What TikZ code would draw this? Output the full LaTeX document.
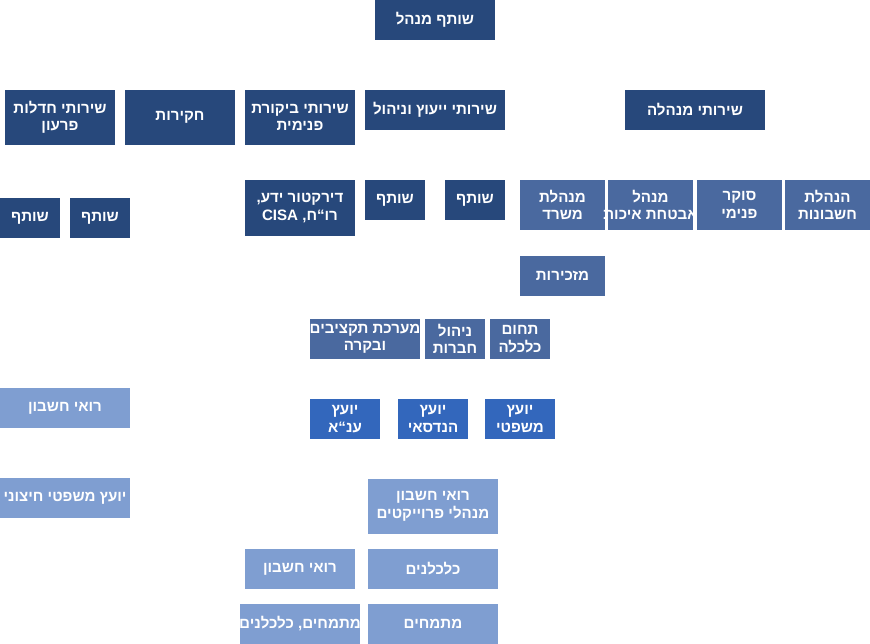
\documentclass[tikz,border=0pt]{standalone}
\usepackage{fontspec}
\setmainfont{Liberation Sans}
\newfontfamily\hebf[Script=Hebrew]{Liberation Sans}
\TeXXeTstate=1
\newcommand{\hb}[1]{\beginR#1\endR}
\definecolor{cdark}{HTML}{27487B}
\definecolor{cmed}{HTML}{4A699F}
\definecolor{cbright}{HTML}{3367BC}
\definecolor{clight}{HTML}{7F9ED1}
\tikzset{
  bx/.style={draw=none,inner sep=0pt,text=white,align=center,
    font=\hebf\bfseries\fontsize{8.6}{10}\selectfont},
  dark/.style={bx,fill=cdark},
  med/.style={bx,fill=cmed},
  bright/.style={bx,fill=cbright},
  light/.style={bx,fill=clight}}
\newcommand{\bx}[7]{%
  \path[#5] (#1,#2) rectangle (#3,#4);
  \node[#5,fill=none] (#6) at ({(#1+#3)/2},{(#2+#4)/2}) {#7};}
\begin{document}
\begin{tikzpicture}[x=0.02cm,y=-0.02cm]
\useasboundingbox (0,0) rectangle (870,644);
\bx{375}{0}{495}{40}{dark}{top}{\hb{שותף מנהל}}
\bx{5}{90}{115}{145}{dark}{hadl}{\hb{שירותי חדלות}\\\hb{פרעון}}
\bx{125}{90}{235}{145}{dark}{hak}{\hb{חקירות}}
\bx{245}{90}{355}{145}{dark}{bik}{\hb{שירותי ביקורת}\\\hb{פנימית}}
\bx{365}{90}{505}{130}{dark}{yeuz}{\hb{שירותי ייעוץ וניהול}}
\bx{625}{90}{765}{130}{dark}{minh}{\hb{שירותי מנהלה}}
\bx{245}{180}{355}{236}{dark}{dir}{\hb{דירקטור ידע,}\\\hb{רו“ח, \beginL CISA\endL}}
\bx{365}{180}{425}{220}{dark}{s1}{\hb{שותף}}
\bx{445}{180}{505}{220}{dark}{s2}{\hb{שותף}}
\bx{70}{198}{130}{238}{dark}{s3}{\hb{שותף}}
\bx{0}{198}{60}{238}{dark}{s4}{\hb{שותף}}
\bx{520}{180}{605}{230}{med}{m1}{\hb{מנהלת}\\\hb{משרד}}
\bx{608}{180}{693}{230}{med}{m2}{\hb{מנהל}\\\hb{אבטחת איכות}}
\bx{697}{180}{782}{230}{med}{m3}{\hb{סוקר}\\\hb{פנימי}}
\bx{785}{180}{870}{230}{med}{m4}{\hb{הנהלת}\\\hb{חשבונות}}
\bx{520}{256}{605}{296}{med}{m5}{\hb{מזכירות}}
\bx{310}{319}{420}{359}{med}{m6}{\hb{מערכת תקציבים}\\\hb{ובקרה}}
\bx{425}{319}{485}{359}{med}{m7}{\hb{ניהול}\\\hb{חברות}}
\bx{490}{319}{550}{359}{med}{m8}{\hb{תחום}\\\hb{כלכלה}}
\bx{310}{399}{380}{439}{bright}{b1}{\hb{יועץ}\\\hb{ענ“א}}
\bx{398}{399}{468}{439}{bright}{b2}{\hb{יועץ}\\\hb{הנדסאי}}
\bx{485}{399}{555}{439}{bright}{b3}{\hb{יועץ}\\\hb{משפטי}}
\bx{0}{388}{130}{428}{light}{l1}{\hb{רואי חשבון}}
\bx{0}{478}{130}{518}{light}{l2}{\hb{יועץ משפטי חיצוני}}
\bx{368}{479}{498}{534}{light}{l3}{\hb{רואי חשבון}\\\hb{מנהלי פרוייקטים}}
\bx{245}{549}{355}{589}{light}{l4}{\hb{רואי חשבון}}
\bx{368}{549}{498}{589}{light}{l5}{\hb{כלכלנים}}
\bx{240}{604}{360}{644}{light}{l6}{\hb{מתמחים, כלכלנים}}
\bx{368}{604}{498}{644}{light}{l7}{\hb{מתמחים}}
\end{tikzpicture}
\end{document}
